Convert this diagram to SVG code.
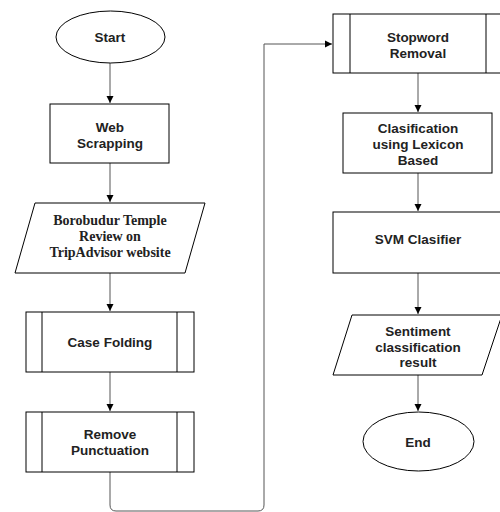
<svg xmlns="http://www.w3.org/2000/svg" width="500" height="512" viewBox="0 0 500 512">
<style>
.shape{fill:#fff;stroke:#000;stroke-width:1}
.conn{fill:none;stroke:#555;stroke-width:1}
.t{font-family:"Liberation Sans",Arial,sans-serif;font-weight:bold;font-size:13.5px;fill:#222;text-anchor:middle}
.ts{font-family:"Liberation Serif","Times New Roman",serif;font-weight:bold;font-size:14px;fill:#222;text-anchor:middle}
</style>
<defs>
<marker id="ah" markerWidth="8" markerHeight="8" refX="7" refY="4" orient="auto" markerUnits="userSpaceOnUse">
<path d="M0,0.5 L7,4 L0,7.5 Z" fill="#000"/>
</marker>
</defs>
<rect width="500" height="512" fill="#fff"/>
<g id="connectors">
<path class="conn" d="M110,63 V103" marker-end="url(#ah)"/>
<path class="conn" d="M110,163 V202" marker-end="url(#ah)"/>
<path class="conn" d="M110,273 V311" marker-end="url(#ah)"/>
<path class="conn" d="M110,372 V411" marker-end="url(#ah)"/>
<path class="conn" d="M110,472 V505 Q110,511 116,511 H258 Q264,511 264,505 V44 H332" marker-end="url(#ah)"/>
<path class="conn" d="M418,73 V112" marker-end="url(#ah)"/>
<path class="conn" d="M418,173 V211" marker-end="url(#ah)"/>
<path class="conn" d="M418,273 V314" marker-end="url(#ah)"/>
<path class="conn" d="M418,375 V411" marker-end="url(#ah)"/>
</g>
<g id="start">
<ellipse class="shape" cx="110.5" cy="37" rx="54.5" ry="26"/>
<text class="t" x="110" y="42">Start</text>
</g>
<g id="web-scrapping">
<rect class="shape" x="50" y="104" width="119" height="59"/>
<text class="t" x="110" y="132">Web</text>
<text class="t" x="110" y="148">Scrapping</text>
</g>
<g id="review-data">
<path class="shape" d="M35,203 H205 L185,273 H15 Z"/>
<text class="ts" x="110" y="225">Borobudur Temple</text>
<text class="ts" x="110" y="241">Review on</text>
<text class="ts" x="110" y="257">TripAdvisor website</text>
</g>
<g id="case-folding">
<rect class="shape" x="26" y="312" width="168" height="60"/>
<path class="shape" d="M42,312 V372 M177,312 V372"/>
<text class="t" x="110" y="347">Case Folding</text>
</g>
<g id="remove-punctuation">
<rect class="shape" x="26" y="412" width="168" height="60"/>
<path class="shape" d="M42,412 V472 M177,412 V472"/>
<text class="t" x="110" y="439">Remove</text>
<text class="t" x="110" y="455">Punctuation</text>
</g>
<g id="stopword-removal">
<rect class="shape" x="333" y="14" width="169" height="59"/>
<path class="shape" d="M350,14 V73 M486,14 V73"/>
<text class="t" x="418" y="41.5">Stopword</text>
<text class="t" x="418" y="57.5">Removal</text>
</g>
<g id="lexicon-classification">
<rect class="shape" x="343" y="113" width="149" height="60"/>
<text class="t" x="418" y="133">Clasification</text>
<text class="t" x="418" y="149">using Lexicon</text>
<text class="t" x="418" y="165">Based</text>
</g>
<g id="svm-classifier">
<rect class="shape" x="333" y="212" width="169" height="61"/>
<text class="t" x="418" y="244">SVM Clasifier</text>
</g>
<g id="sentiment-result">
<path class="shape" d="M352,315 H502 L482,375 H333 Z"/>
<text class="t" x="418" y="336">Sentiment</text>
<text class="t" x="418" y="352">classification</text>
<text class="t" x="418" y="367">result</text>
</g>
<g id="end">
<ellipse class="shape" cx="418.5" cy="441.5" rx="55.5" ry="29.5"/>
<text class="t" x="418" y="447">End</text>
</g>
</svg>
